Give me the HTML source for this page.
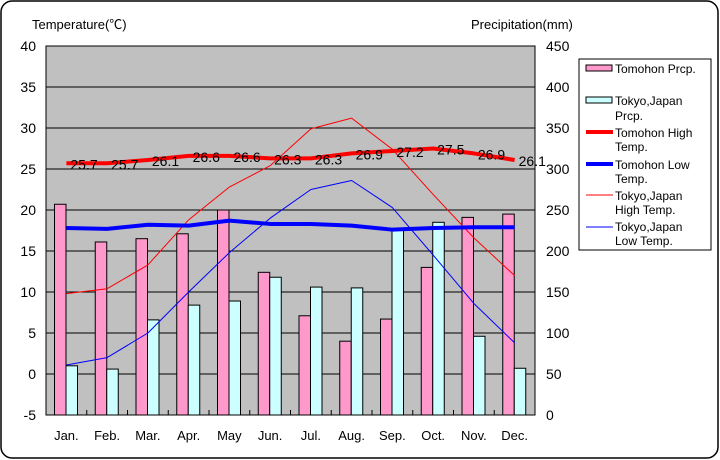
<!DOCTYPE html>
<html><head><meta charset="utf-8"><style>
body{margin:0;background:#fff;}
svg{display:block;font-family:"Liberation Sans","Noto Sans CJK JP",sans-serif;}
</style></head><body>
<svg id="chart" width="720" height="460" viewBox="0 0 720 460" xmlns="http://www.w3.org/2000/svg">
<rect x="1" y="1" width="717" height="457" rx="11" fill="#fff" stroke="#000" stroke-width="1.5"/>
<rect x="46" y="46" width="489" height="369" fill="#c0c0c0" stroke="#000"/>
<g id="grid"></g><g id="bars"></g><g id="lines"></g><g id="axes"></g>
<text x="32" y="29" font-size="13">Temperature(℃)</text>
<text x="471" y="29" font-size="13">Precipitation(mm)</text>
<g font-size="12">
<rect x="579" y="59" width="132" height="191" fill="#fff" stroke="#000"/>
<rect x="586" y="65" width="26" height="6" fill="#ff99cc" stroke="#000"/>
<text x="615" y="73">Tomohon Prcp.</text>
<rect x="586" y="97" width="26" height="6" fill="#ccffff" stroke="#000"/>
<text x="615" y="105">Tokyo,Japan</text><text x="615" y="120">Prcp.</text>
<line x1="586" y1="132" x2="613" y2="132" stroke="#ff0000" stroke-width="4"/>
<text x="615" y="137">Tomohon High</text><text x="615" y="151">Temp.</text>
<line x1="586" y1="164" x2="613" y2="164" stroke="#0000ff" stroke-width="4"/>
<text x="615" y="169">Tomohon Low</text><text x="615" y="183">Temp.</text>
<line x1="586" y1="195" x2="613" y2="195" stroke="#ff0000" stroke-width="1"/>
<text x="615" y="200">Tokyo,Japan</text><text x="615" y="214">High Temp.</text>
<line x1="586" y1="227" x2="613" y2="227" stroke="#0000ff" stroke-width="1"/>
<text x="615" y="231">Tokyo,Japan</text><text x="615" y="245">Low Temp.</text>
</g>
</svg>
<script>
const months=["Jan.","Feb.","Mar.","Apr.","May","Jun.","Jul.","Aug.","Sep.","Oct.","Nov.","Dec."];
const tomohonPrcp=[257,211,215,221,250,174,121,90,117,180,241,245];
const tokyoPrcp=[60,56,116,134,139,168,156,155,227,235,96,57];
const tomohonHigh=[25.7,25.7,26.1,26.6,26.6,26.3,26.3,26.9,27.2,27.5,26.9,26.1];
const tomohonLow=[17.8,17.7,18.2,18.1,18.7,18.3,18.3,18.1,17.6,17.8,17.9,17.9];
const tokyoHigh=[9.8,10.4,13.3,18.8,22.8,25.4,29.9,31.2,27.4,21.9,16.6,12.0];
const tokyoLow=[1.1,2.0,5.0,10.0,14.8,19.0,22.5,23.6,20.3,14.5,8.6,3.8];
const tempTicks=[-5,0,5,10,15,20,25,30,35,40];
const prcpTicks=[0,50,100,150,200,250,300,350,400,450];
const NS="http://www.w3.org/2000/svg";
const L=46,R=535,T=46,B=415,bw=(R-L)/12;
const yT=v=>B-(v+5)/45*(B-T);
const yP=v=>B-v/450*(B-T);
const xC=i=>L+bw*i+bw/2;
function mk(tag,attrs,parent,txt){const e=document.createElementNS(NS,tag);for(const k in attrs)e.setAttribute(k,attrs[k]);if(txt!==undefined)e.textContent=txt;document.getElementById(parent).appendChild(e);return e;}
tempTicks.forEach((t,i)=>{
  if(t>-5&&t<40){const g=mk('line',{x1:L,x2:R,y1:yT(t),y2:yT(t),stroke:'#000'},'grid');
  
  }
  const a=mk('text',{x:36,y:yT(t)+5,'font-size':14,'text-anchor':'end'},'axes',t);
  
  
});
prcpTicks.forEach(p=>{
  const a=mk('text',{x:546,y:yP(p)+5,'font-size':14},'axes',p);
  
  
});
months.forEach((m,i)=>{
  const a=mk('text',{x:xC(i),y:440,'font-size':13,'text-anchor':'middle'},'axes',m);
  
  
  const tk=mk('line',{x1:L+bw*i,x2:L+bw*i,y1:B,y2:B-5,stroke:'#000'},'axes');
  
  
  const b1=mk('rect',{x:L+bw*i+8.5,y:yP(tomohonPrcp[i]),width:11.5,height:B-yP(tomohonPrcp[i]),fill:'#ff99cc',stroke:'#000'},'bars');
  
  
  const b2=mk('rect',{x:L+bw*i+20,y:yP(tokyoPrcp[i]),width:11.5,height:B-yP(tokyoPrcp[i]),fill:'#ccffff',stroke:'#000'},'bars');
  
  
});
function line(arr,color,w,name){
  const p=mk('polyline',{points:arr.map((v,i)=>xC(i)+','+yT(v)).join(' '),fill:'none',stroke:color,'stroke-width':w,'stroke-linejoin':'round'},'lines');
  
  
}
line(tokyoHigh,'#ff0000',1,'line-tokyo-high');
line(tokyoLow,'#0000ff',1,'line-tokyo-low');
line(tomohonHigh,'#ff0000',4,'line-tomohon-high');
line(tomohonLow,'#0000ff',4,'line-tomohon-low');
tomohonHigh.forEach((v,i)=>{
  const t=mk('text',{x:xC(i)+4,y:yT(v)+6,'font-size':14,'text-anchor':'start'},'lines',v.toFixed(1));
  
  
});
</script>
</body></html>
